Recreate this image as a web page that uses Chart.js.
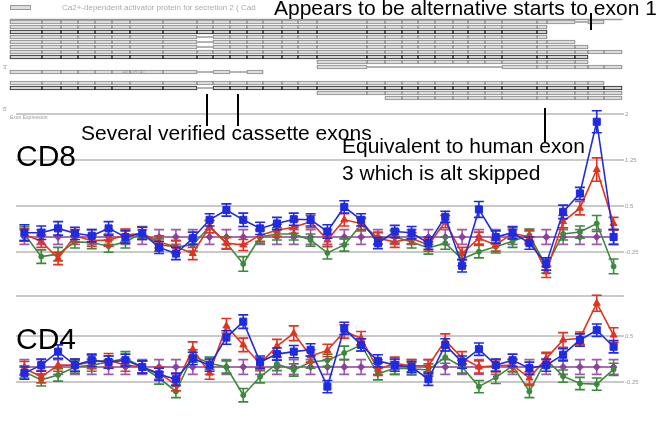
<!DOCTYPE html>
<html>
<head>
<meta charset="utf-8">
<script src="https://cdn.jsdelivr.net/npm/chart.js@4.4.0/dist/chart.umd.min.js"></script>
<style>
  body { margin: 0; width: 661px; height: 425px; position: relative; overflow: hidden; background: #fff;
         font-family: "Liberation Sans", Arial, sans-serif; }
  canvas { position: absolute; }
  .note { position: absolute; white-space: nowrap; font-size: 21px; line-height: 1; color: #000; }
  .big { position: absolute; font-size: 30px; line-height: 1; color: #000; }
  .tiny { position: absolute; white-space: nowrap; font-size: 6px; line-height: 1; color: #999; }
  .ptr { position: absolute; width: 2px; background: #000; }
</style>
</head>
<body>
<canvas id="track" width="661" height="112" style="left:0;top:0"></canvas>
<canvas id="cd8" width="651" height="182" style="left:10px;top:99px"></canvas>
<canvas id="cd4" width="651" height="136" style="left:10px;top:290px"></canvas>

<div style="position:absolute;left:10px;top:5px;width:19px;height:3px;border:1px solid #999;background:#ddd"></div>
<div class="tiny" style="left:62px;top:4px;font-size:8px;color:#aaa">Ca2+-dependent activator protein for secretion 2 ( Cad</div>
<div class="tiny" style="left:3px;top:64px">3'</div>
<div class="tiny" style="left:3px;top:106px">5'</div>
<div class="tiny" style="left:122px;top:70px;font-size:5px">AK078741</div>
<div class="tiny" style="left:10px;top:115px;font-size:5px">Exon Expression</div>

<div class="note" style="left:274px;top:-3px">Appears to be alternative starts to exon 1</div>
<div class="note" style="left:81px;top:122px">Several verified cassette exons</div>
<div class="note" style="left:342px;top:135px">Equivalent to human exon</div>
<div class="note" style="left:342px;top:162px">3 which is alt skipped</div>
<div class="big" style="left:16px;top:141px">CD8</div>
<div class="big" style="left:16px;top:324px">CD4</div>

<div class="ptr" style="left:590px;top:13px;height:17px"></div>
<div class="ptr" style="left:206px;top:94px;height:32px"></div>
<div class="ptr" style="left:237px;top:94px;height:32px"></div>
<div class="ptr" style="left:544px;top:108px;height:34px"></div>

<script>
// ---- gene model (track positions of exon boundaries, left to right) ----
var exonEdges = [10, 42, 61, 78, 95, 112, 130, 163, 197, 213, 230, 247, 263, 282, 298, 317,
                 367, 385, 402, 418, 435, 453, 468, 485, 502, 537, 547, 575, 588, 604, 622];
// transcripts: row, first exon slot, last exon slot, skipped slots, dark outline
var transcripts = [
  { row: 0, from: 0, to: 28, skip: [27], dark: false },
  { row: 1, from: 0, to: 25, skip: [], dark: false },
  { row: 2, from: 0, to: 25, skip: [], dark: true },
  { row: 3, from: 0, to: 25, skip: [8], dark: false },
  { row: 4, from: 0, to: 26, skip: [8], dark: false },
  { row: 5, from: 0, to: 27, skip: [8], dark: false },
  { row: 6, from: 0, to: 29, skip: [], dark: false },
  { row: 7, from: 0, to: 27, skip: [], dark: true },
  { row: 8, from: 15, to: 27, skip: [], dark: false },
  { row: 9, from: 15, to: 29, skip: [16, 17, 18, 19, 20, 21, 22, 23], dark: false },
  { row: 10, from: 0, to: 11, skip: [8, 10], dark: false },
  { row: 12.2, from: 0, to: 28, skip: [], dark: false },
  { row: 13.2, from: 0, to: 29, skip: [8], dark: true },
  { row: 14.2, from: 15, to: 29, skip: [], dark: false },
  { row: 15.2, from: 17, to: 29, skip: [], dark: false }
];

// ---- exon expression, 36 exon columns ----
var exonLabels = [];
for (var k = 1; k <= 36; k++) exonLabels.push("E" + k);

var cd8Ticks = [-0.25, 0.5, 1.25, 2];
var cd4Ticks = [-0.25, 0.5, 1.16];

var cd8Blue = [0.07, 0.07, 0.14, 0.06, 0.02, 0.14, 0.00, 0.06, -0.17, -0.27, -0.02, 0.28, 0.44, 0.28, 0.14, 0.22, 0.29, 0.28,
               0.09, 0.49, 0.28, -0.10, 0.09, 0.07, -0.10, 0.33, -0.47, 0.45, 0.00, 0.07, -0.10, -0.44, 0.41, 0.71, 1.88, 0.00];
var cd8Red = [0.04, -0.07, -0.35, 0.02, -0.06, -0.05, 0.03, 0.06, -0.08, -0.16, -0.27, 0.17, -0.10, -0.13, 0.03, 0.11, 0.16, 0.25,
              -0.05, 0.28, 0.22, -0.02, -0.08, -0.02, -0.13, 0.25, -0.27, -0.02, -0.13, 0.06, 0.00, -0.57, 0.25, 0.47, 1.10, 0.22];
var cd8Green = [0.05, -0.32, -0.28, -0.08, -0.09, -0.15, -0.08, 0.07, -0.13, -0.16, -0.13, 0.17, -0.10, -0.44, 0.00, 0.05, 0.05, -0.05,
                -0.26, -0.13, 0.20, -0.02, 0.00, -0.08, -0.18, -0.10, -0.36, -0.24, -0.16, -0.07, 0.03, -0.48, 0.05, 0.08, 0.22, -0.48];
var cd8Purple = [0, 0, 0, 0, 0, 0, 0, 0, 0, 0, 0, 0, 0, 0, 0, 0, 0, 0,
                 0, 0, 0, 0, 0, 0, 0, 0, 0, 0, 0, 0, 0, 0, 0, 0, 0, 0];

var cd8BlueErr = [0.13, 0.11, 0.11, 0.10, 0.10, 0.11, 0.10, 0.10, 0.10, 0.10, 0.10, 0.10, 0.10, 0.11, 0.10, 0.10, 0.10, 0.10,
                  0.11, 0.10, 0.10, 0.09, 0.10, 0.10, 0.10, 0.09, 0.10, 0.13, 0.10, 0.10, 0.10, 0.10, 0.11, 0.10, 0.18, 0.12];
var cd8RedErr = [0.10, 0.10, 0.10, 0.10, 0.09, 0.10, 0.10, 0.10, 0.10, 0.10, 0.10, 0.10, 0.09, 0.09, 0.10, 0.10, 0.10, 0.10,
                 0.10, 0.10, 0.10, 0.09, 0.09, 0.09, 0.10, 0.10, 0.10, 0.10, 0.10, 0.09, 0.10, 0.09, 0.10, 0.11, 0.19, 0.10];
var cd8GreenErr = [0.12, 0.11, 0.11, 0.10, 0.10, 0.10, 0.10, 0.10, 0.10, 0.10, 0.10, 0.10, 0.10, 0.12, 0.10, 0.10, 0.10, 0.10,
                   0.10, 0.10, 0.10, 0.10, 0.10, 0.10, 0.10, 0.10, 0.11, 0.10, 0.10, 0.10, 0.10, 0.11, 0.10, 0.10, 0.13, 0.12];
var cd8PurpleErr = [0.12, 0.12, 0.12, 0.12, 0.12, 0.12, 0.12, 0.12, 0.12, 0.12, 0.12, 0.12, 0.12, 0.12, 0.12, 0.12, 0.12, 0.12,
                    0.12, 0.12, 0.12, 0.12, 0.12, 0.12, 0.12, 0.12, 0.12, 0.12, 0.12, 0.12, 0.12, 0.12, 0.12, 0.12, 0.12, 0.12];

var cd4Blue = [-0.10, 0.03, 0.25, 0.03, 0.11, 0.08, 0.11, 0.00, -0.12, -0.20, 0.14, 0.03, 0.48, 0.74, 0.08, 0.21, 0.25, 0.28,
               -0.32, 0.63, 0.36, 0.10, 0.03, 0.00, -0.20, 0.36, 0.08, 0.29, 0.03, 0.11, -0.02, 0.03, 0.20, 0.44, 0.60, 0.33];
var cd4Red = [-0.02, -0.16, 0.03, 0.03, 0.08, 0.11, 0.03, 0.00, -0.10, -0.29, 0.29, -0.10, 0.67, 0.36, 0.05, 0.34, 0.55, 0.18,
              0.27, 0.58, 0.47, -0.04, 0.06, 0.02, 0.02, 0.43, 0.15, 0.00, 0.02, 0.03, -0.18, 0.14, 0.44, 0.47, 1.04, 0.52];
var cd4Green = [-0.08, -0.21, -0.13, 0.00, 0.03, 0.08, 0.14, 0.00, -0.18, -0.40, 0.18, 0.06, 0.00, -0.46, -0.16, 0.05, -0.05, 0.08,
                0.11, 0.23, 0.36, -0.11, -0.02, -0.03, -0.05, 0.16, 0.00, -0.32, -0.17, 0.02, -0.40, 0.12, -0.15, -0.27, -0.28, -0.04];
var cd4Purple = [0, 0, 0, 0, 0, 0, 0, 0, 0, 0, 0, 0, 0, 0, 0, 0, 0, 0,
                 0, 0, 0, 0, 0, 0, 0, 0, 0, 0, 0, 0, 0, 0, 0, 0, 0, 0];

var cd4BlueErr = [0.10, 0.10, 0.11, 0.10, 0.10, 0.10, 0.10, 0.10, 0.10, 0.10, 0.10, 0.10, 0.11, 0.11, 0.10, 0.10, 0.10, 0.10,
                  0.10, 0.10, 0.10, 0.10, 0.10, 0.09, 0.10, 0.10, 0.10, 0.10, 0.10, 0.10, 0.10, 0.10, 0.10, 0.10, 0.10, 0.10];
var cd4RedErr = [0.11, 0.10, 0.10, 0.10, 0.11, 0.11, 0.10, 0.10, 0.10, 0.10, 0.12, 0.10, 0.12, 0.11, 0.10, 0.11, 0.12, 0.10,
                 0.10, 0.11, 0.11, 0.10, 0.10, 0.10, 0.10, 0.11, 0.10, 0.10, 0.10, 0.10, 0.10, 0.10, 0.12, 0.10, 0.13, 0.12];
var cd4GreenErr = [0.10, 0.10, 0.10, 0.10, 0.10, 0.10, 0.11, 0.10, 0.10, 0.10, 0.10, 0.10, 0.10, 0.11, 0.10, 0.11, 0.10, 0.10,
                   0.10, 0.11, 0.10, 0.10, 0.10, 0.10, 0.10, 0.10, 0.10, 0.10, 0.10, 0.10, 0.10, 0.10, 0.10, 0.10, 0.10, 0.10];
var cd4PurpleErr = [0.12, 0.12, 0.12, 0.12, 0.12, 0.12, 0.12, 0.12, 0.12, 0.12, 0.12, 0.12, 0.12, 0.12, 0.12, 0.12, 0.12, 0.12,
                    0.12, 0.12, 0.12, 0.12, 0.12, 0.12, 0.12, 0.12, 0.12, 0.12, 0.12, 0.12, 0.12, 0.12, 0.12, 0.12, 0.12, 0.12];

var BLUE = "#1f2be0", RED = "#e2331f", GREEN = "#3b8a3b", PURPLE = "#8c3f9c";

// draws the vertical error bars with caps under each series
var errorBars = {
  id: "errorBars",
  beforeDatasetDraw: function (chart, args) {
    var ds = chart.data.datasets[args.index];
    if (!ds.errors) return;
    var y = chart.scales.y, ctx = chart.ctx;
    ctx.save();
    ctx.strokeStyle = ds.errorColor || ds.borderColor;
    ctx.lineWidth = 1.6;
    args.meta.data.forEach(function (pt, i) {
      var top = y.getPixelForValue(ds.data[i] + ds.errors[i]);
      var bot = y.getPixelForValue(ds.data[i] - ds.errors[i]);
      ctx.beginPath();
      ctx.moveTo(pt.x, top); ctx.lineTo(pt.x, bot);
      ctx.moveTo(pt.x - 5, top); ctx.lineTo(pt.x + 5, top);
      ctx.moveTo(pt.x - 5, bot); ctx.lineTo(pt.x + 5, bot);
      ctx.stroke();
    });
    ctx.restore();
  }
};

function series(values, errors, color, errColor, style, radius) {
  return {
    data: values, errors: errors, errorColor: errColor,
    borderColor: color, backgroundColor: color, borderWidth: 1.6,
    pointStyle: style, pointRadius: radius, pointBorderWidth: 1,
    tension: 0
  };
}

function expression(id, blue, red, green, purple, errs, ticks, min, max, showTop) {
  new Chart(document.getElementById(id), {
    type: "line",
    data: {
      labels: exonLabels,
      datasets: [
        series(blue, errs[0], BLUE, BLUE, "rect", 5),
        series(red, errs[1], RED, RED, "triangle", 4),
        series(green, errs[2], GREEN, GREEN, "circle", 2.5),
        series(purple, errs[3], PURPLE, "#9b5aab", "rectRot", 3.5)
      ]
    },
    options: {
      responsive: false,
      animation: false,
      layout: { padding: { top: 6, bottom: 6, left: 0, right: 0 } },
      plugins: { legend: { display: false }, tooltip: { enabled: false } },
      scales: {
        x: { type: "category", offset: true, display: false },
        y: {
          position: "right", min: min, max: max,
          afterBuildTicks: function (scale) { scale.ticks = ticks.map(function (v) { return { value: v }; }); },
          afterFit: function (scale) { scale.width = 39; },
          border: { display: false },
          grid: { color: "#c9c9c9", lineWidth: 2, tickLength: 2 },
          ticks: {
            color: "#999", font: { size: 6, family: "Liberation Sans" }, padding: 1,
            callback: function (v) { return (!showTop && v === ticks[ticks.length - 1]) ? "" : String(v); }
          }
        }
      }
    },
    plugins: [errorBars]
  });
}

expression("cd8", cd8Blue, cd8Red, cd8Green, cd8Purple,
  [cd8BlueErr, cd8RedErr, cd8GreenErr, cd8PurpleErr], cd8Ticks, -0.62, 2.153, true);
expression("cd4", cd4Blue, cd4Red, cd4Green, cd4Purple,
  [cd4BlueErr, cd4RedErr, cd4GreenErr, cd4PurpleErr], cd4Ticks, -0.865, 1.158, false);

// ---- gene track as floating bars ----
var lightExons = [], darkExons = [], introns = [];
introns.push({ x: [exonEdges[0], exonEdges[exonEdges.length - 1]], y: -0.5 });
transcripts.forEach(function (t) {
  introns.push({ x: [exonEdges[t.from], exonEdges[t.to + 1]], y: t.row });
  for (var s = t.from; s <= t.to; s++) {
    if (t.skip.indexOf(s) >= 0) continue;
    (t.dark ? darkExons : lightExons).push({ x: [exonEdges[s], exonEdges[s + 1]], y: t.row });
  }
});

new Chart(document.getElementById("track"), {
  type: "bar",
  data: {
    datasets: [
      { data: darkExons, backgroundColor: "#d4d4d4", borderColor: "#222", borderWidth: 1, barThickness: 4, borderSkipped: false },
      { data: lightExons, backgroundColor: "#dcdcdc", borderColor: "#8a8a8a", borderWidth: 1, barThickness: 4, borderSkipped: false },
      { data: introns, backgroundColor: "#9a9a9a", borderWidth: 0, barThickness: 1 }
    ]
  },
  options: {
    indexAxis: "y",
    responsive: false,
    animation: false,
    layout: { padding: 0 },
    plugins: { legend: { display: false }, tooltip: { enabled: false } },
    datasets: { bar: { grouped: false } },
    scales: {
      x: { type: "linear", min: 0, max: 661, display: false },
      y: { type: "linear", min: -4.4, max: 18, reverse: true, offset: false, display: false }
    }
  }
});
</script>
</body>
</html>
